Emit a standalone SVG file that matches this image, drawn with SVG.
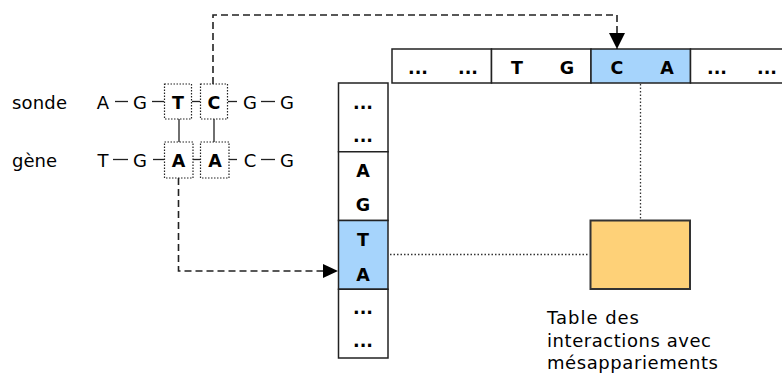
<svg xmlns="http://www.w3.org/2000/svg" width="782" height="374" viewBox="0 0 782 374">
<style>
text{font-family:"DejaVu Sans","Verdana",sans-serif;fill:#000}
.lbl{font-size:18px}
.seq{font-size:18px;text-anchor:middle}
.b{font-size:17.5px;font-weight:bold;text-anchor:middle}
.cell{fill:#fff;stroke:#222;stroke-width:1.5}
.hi{fill:#a6d4fc;stroke:#222;stroke-width:1.5}
.dotbox{fill:none;stroke:#222;stroke-width:1.2;stroke-dasharray:1.5 1.5}
.bond{stroke:#222;stroke-width:1.3;fill:none}
.dash{stroke:#222;stroke-width:1.6;fill:none;stroke-dasharray:7 4}
.dot{stroke:#333;stroke-width:1.3;fill:none;stroke-dasharray:1.5 2}
</style>
<defs>
<marker id="ah" viewBox="0 0 16 16" refX="16" refY="8" markerWidth="16" markerHeight="16" markerUnits="userSpaceOnUse" orient="auto">
<path d="M0,0 L16,8 L0,16 z" fill="#000"/>
</marker>
<marker id="ah2" viewBox="0 0 15 14" refX="15" refY="7" markerWidth="15" markerHeight="14" markerUnits="userSpaceOnUse" orient="auto">
<path d="M0,0 L15,7 L0,14 z" fill="#000"/>
</marker>
</defs>

<g id="labels">
<text class="lbl" x="12" y="109" textLength="55">sonde</text>
<text class="lbl" x="12" y="167">gène</text>
</g>

<g id="sonde">
<text class="seq" x="103" y="109">A</text>
<line class="bond" x1="115" y1="101.5" x2="128" y2="101.5"/>
<text class="seq" x="140" y="109">G</text>
<line class="bond" x1="152" y1="101.5" x2="164" y2="101.5"/>
<rect class="dotbox" x="164.5" y="84" width="27" height="35"/>
<text class="b" x="178" y="109">T</text>
<line class="bond" x1="192" y1="101.5" x2="200" y2="101.5"/>
<rect class="dotbox" x="200.5" y="84" width="27" height="35"/>
<text class="b" x="214" y="109">C</text>
<line class="bond" x1="228" y1="101.5" x2="237" y2="101.5"/>
<text class="seq" x="250" y="109">G</text>
<line class="bond" x1="261" y1="101.5" x2="275" y2="101.5"/>
<text class="seq" x="287" y="109">G</text>
</g>

<g id="gene">
<text class="seq" x="103" y="167">T</text>
<line class="bond" x1="113" y1="159.5" x2="128" y2="159.5"/>
<text class="seq" x="140" y="167">G</text>
<line class="bond" x1="153" y1="159.5" x2="164" y2="159.5"/>
<rect class="dotbox" x="164.5" y="142" width="28.5" height="36"/>
<text class="b" x="178.5" y="167">A</text>
<line class="bond" x1="193" y1="159.5" x2="200" y2="159.5"/>
<rect class="dotbox" x="200.5" y="142" width="28.5" height="36"/>
<text class="b" x="215" y="167">A</text>
<line class="bond" x1="229" y1="159.5" x2="237" y2="159.5"/>
<text class="seq" x="250" y="167">C</text>
<line class="bond" x1="261" y1="159.5" x2="275" y2="159.5"/>
<text class="seq" x="287" y="167">G</text>
</g>

<g id="pairs">
<line class="bond" x1="179" y1="119" x2="179" y2="142"/>
<line class="bond" x1="214" y1="119" x2="214" y2="142"/>
</g>

<g id="bar">
<rect class="cell" x="392" y="49" width="99.5" height="34"/>
<rect class="cell" x="491.5" y="49" width="99.5" height="34"/>
<rect class="hi" x="591" y="49" width="99.5" height="34"/>
<rect class="cell" x="690.5" y="49" width="99.5" height="34"/>
<text class="b" x="418" y="74">...</text>
<text class="b" x="468" y="74">...</text>
<text class="b" x="517" y="74">T</text>
<text class="b" x="567" y="74">G</text>
<text class="b" x="617" y="74">C</text>
<text class="b" x="667" y="74">A</text>
<text class="b" x="717" y="74">...</text>
<text class="b" x="767" y="74">...</text>
</g>

<g id="column">
<rect class="cell" x="338.5" y="83" width="49.5" height="68.75"/>
<rect class="cell" x="338.5" y="151.75" width="49.5" height="68.75"/>
<rect class="hi" x="338.5" y="220.5" width="49.5" height="68.75"/>
<rect class="cell" x="338.5" y="289.25" width="49.5" height="68.75"/>
<text class="b" x="363" y="109">...</text>
<text class="b" x="363" y="142">...</text>
<text class="b" x="363" y="177">A</text>
<text class="b" x="363" y="211">G</text>
<text class="b" x="363" y="246">T</text>
<text class="b" x="363" y="281">A</text>
<text class="b" x="363" y="314">...</text>
<text class="b" x="363" y="347">...</text>
</g>

<g id="table">
<rect x="590.5" y="220.5" width="99.5" height="68.5" fill="#fed178" stroke="#333" stroke-width="2"/>
<text class="lbl" x="547" y="324" textLength="92">Table des</text>
<text class="lbl" x="547" y="347" textLength="164">interactions avec</text>
<text class="lbl" x="547" y="369" textLength="171">mésappariements</text>
</g>

<g id="connectors">
<path class="dash" d="M213,84 V15 H617 V49" marker-end="url(#ah)"/>
<path class="dash" d="M178.5,178 V271 H338" marker-end="url(#ah2)"/>
<line class="dot" x1="390" y1="254.5" x2="589" y2="254.5"/>
<line class="dot" x1="640.5" y1="84" x2="640.5" y2="219"/>
</g>
</svg>
